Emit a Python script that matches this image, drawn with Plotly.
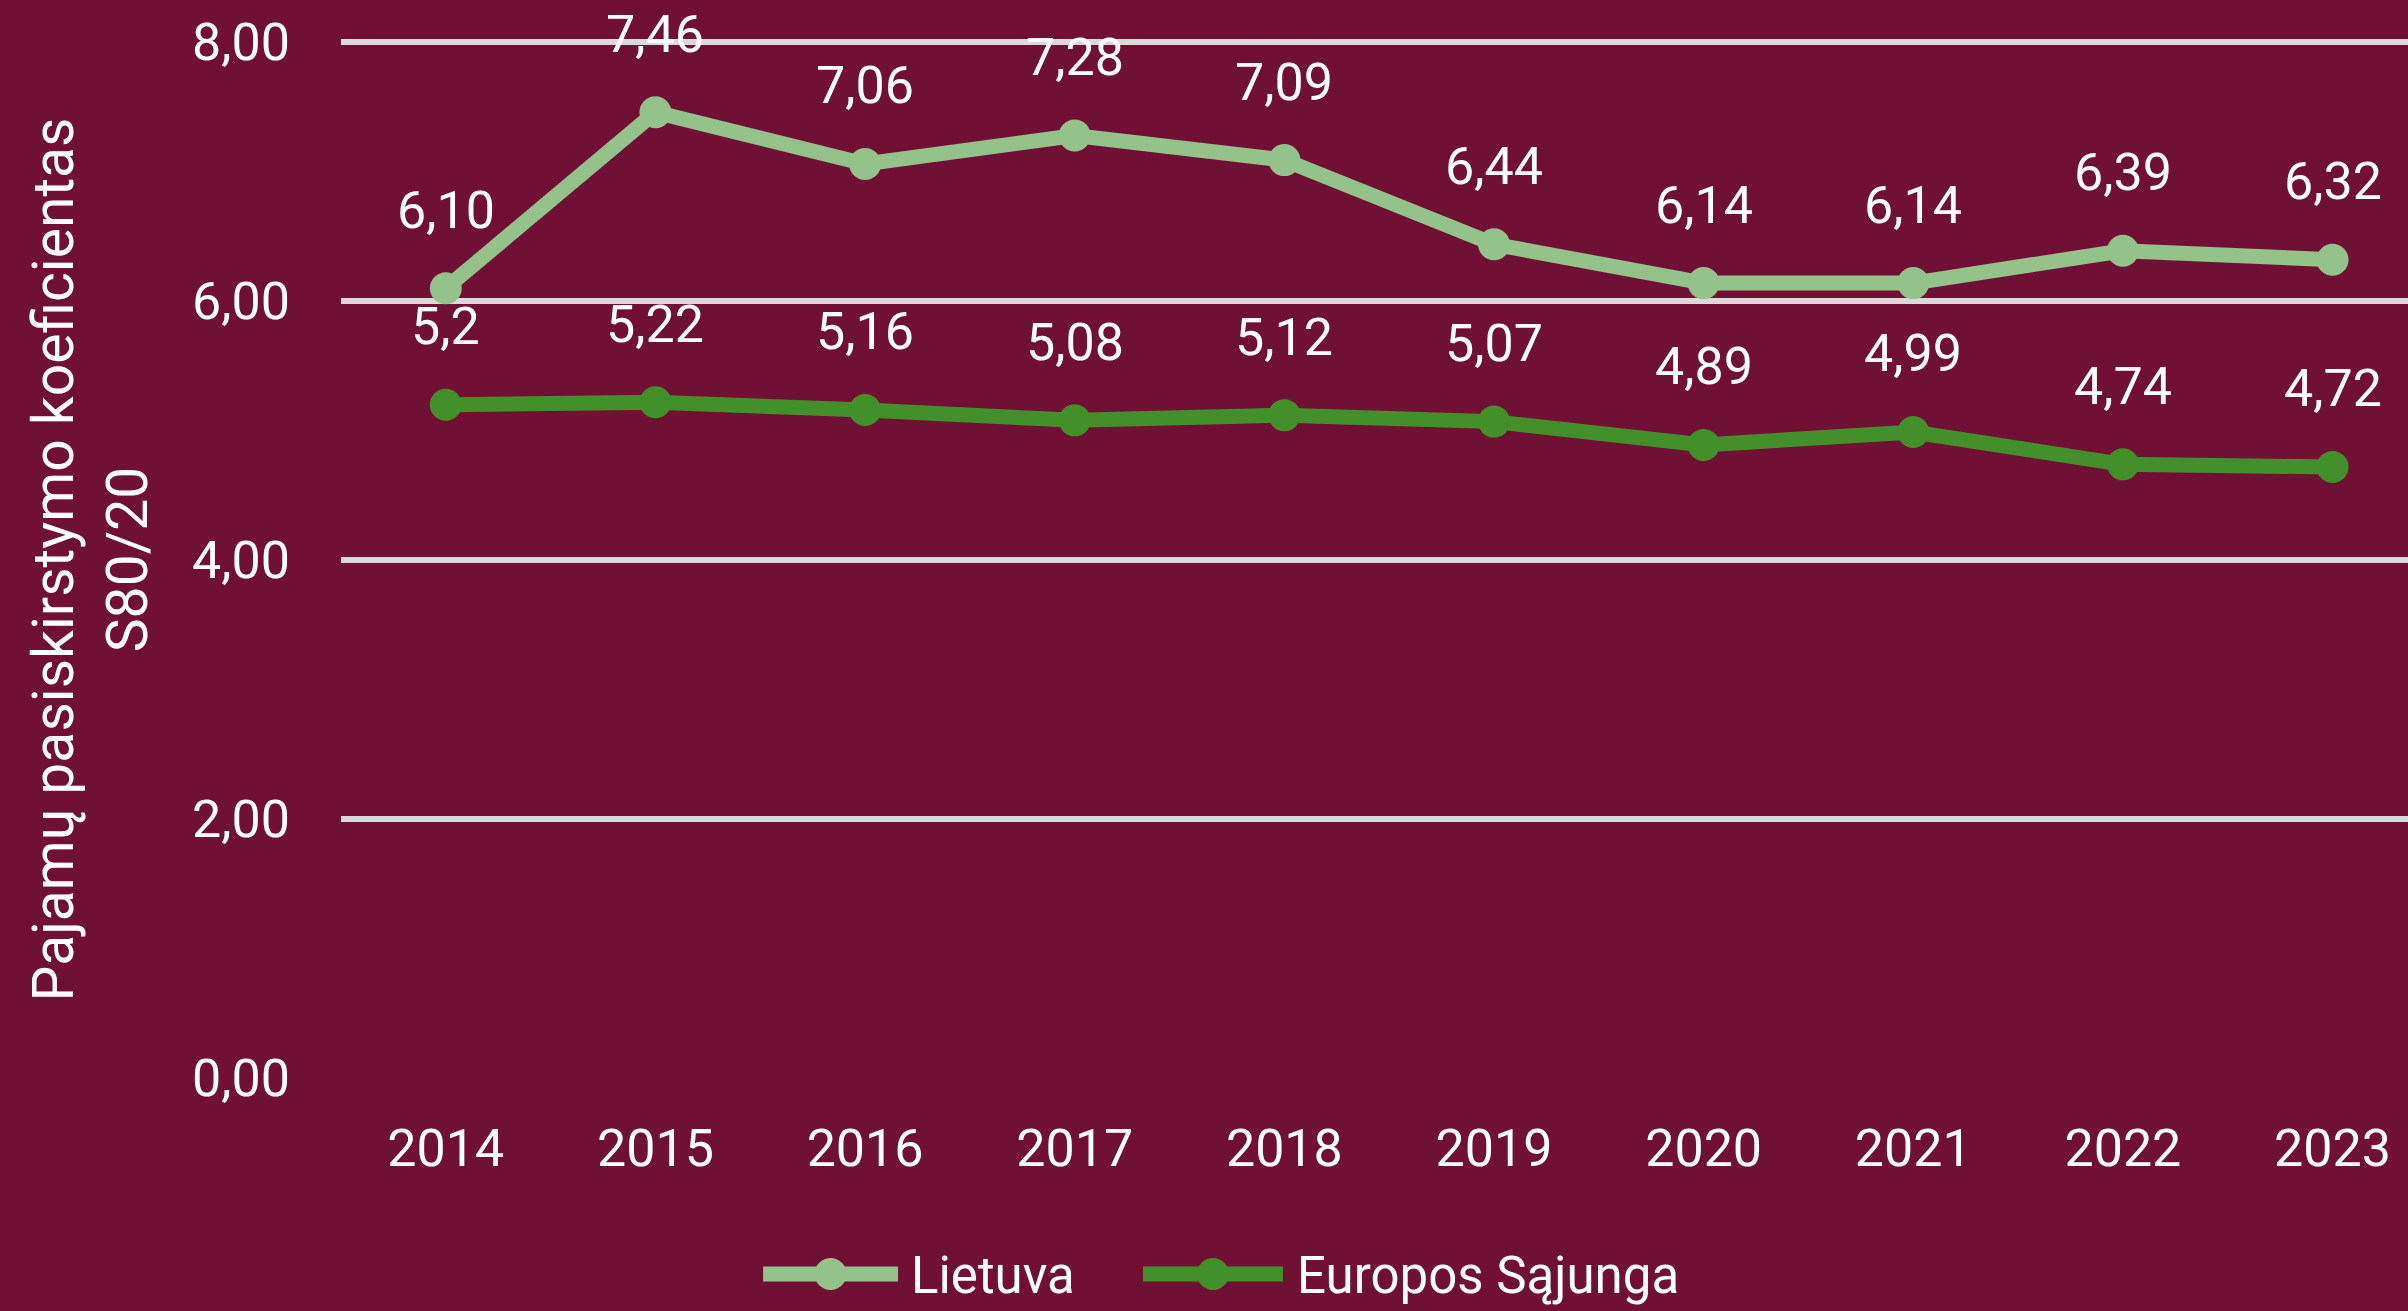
import plotly.graph_objects as go

years = ["2014", "2015", "2016", "2017", "2018", "2019", "2020", "2021", "2022", "2023"]
lietuva = [6.10, 7.46, 7.06, 7.28, 7.09, 6.44, 6.14, 6.14, 6.39, 6.32]
es = [5.2, 5.22, 5.16, 5.08, 5.12, 5.07, 4.89, 4.99, 4.74, 4.72]
lietuva_labels = [f"{v:.2f}".replace(".", ",") for v in lietuva]
es_labels = [str(v).replace(".", ",") for v in es]
y_ticks = [0, 2, 4, 6, 8]
series_names = ["Lietuva", "Europos Sąjunga"]

BG = "#701035"
LIGHT = "#93C28A"
DARK = "#43902A"
FONT = "Roboto"
LW = 15
MS = 32

fig = go.Figure()
fig.add_trace(go.Scatter(
    x=years, y=lietuva, name=series_names[0], mode="lines+markers",
    line=dict(color=LIGHT, width=LW), marker=dict(color=LIGHT, size=MS),
    cliponaxis=False, showlegend=False,
))
fig.add_trace(go.Scatter(
    x=years, y=es, name=series_names[1], mode="lines+markers",
    line=dict(color=DARK, width=LW), marker=dict(color=DARK, size=MS),
    cliponaxis=False, showlegend=False,
))

annotations = []
for ys, labels in [(lietuva, lietuva_labels), (es, es_labels)]:
    for i, (yv, t) in enumerate(zip(ys, labels)):
        annotations.append(dict(
            xref="x", yref="y", x=i, y=yv, text=t, showarrow=False,
            yshift=78,
            font=dict(family=FONT, size=52, color="#FFFFFF"),
        ))

# custom legend (wide line symbols like the original)
shapes = []
leg_y = -0.189
legend_items = [
    (series_names[0], LIGHT, 0.2042, 0.2695, 0.2748),
    (series_names[1], DARK, 0.3880, 0.4557, 0.4615),
]
for name, col, lx0, lx1, tx in legend_items:
    shapes.append(dict(type="line", xref="paper", yref="paper",
                       x0=lx0, x1=lx1, y0=leg_y, y1=leg_y,
                       line=dict(color=col, width=LW)))
    shapes.append(dict(type="circle", xref="paper", yref="paper",
                       xsizemode="pixel", ysizemode="pixel",
                       xanchor=(lx0 + lx1) / 2, yanchor=leg_y,
                       x0=-MS / 2, x1=MS / 2, y0=-MS / 2, y1=MS / 2,
                       fillcolor=col, line=dict(width=0)))
    annotations.append(dict(xref="paper", yref="paper", x=tx, y=leg_y,
                            xanchor="left", yanchor="middle", yshift=-2,
                            text=name, showarrow=False,
                            font=dict(family=FONT, size=51, color="#FFFFFF")))

fig.update_layout(
    width=2408, height=1311,
    paper_bgcolor=BG, plot_bgcolor=BG,
    margin=dict(l=341, r=0, t=41, b=233),
    separators=", ",
    font=dict(family=FONT, size=52, color="#FFFFFF"),
    annotations=annotations,
    shapes=shapes,
    showlegend=False,
    xaxis=dict(
        type="category", range=[-0.5, 9.36],
        showgrid=False, zeroline=False, showline=False,
        ticks="", ticklabelstandoff=35,
        tickfont=dict(family=FONT, size=52, color="#FFFFFF"),
    ),
    yaxis=dict(
        range=[0, 8.01], tickvals=y_ticks, tickformat=".2f",
        showgrid=True, gridcolor="#D9D9D9", gridwidth=6,
        zeroline=False, showline=False, ticks="",
        ticklabelstandoff=50,
        tickfont=dict(family=FONT, size=52, color="#FFFFFF"),
        title=dict(text="Pajamų pasiskirstymo koeficientas<br>S80/20",
                   font=dict(family=FONT, size=57, color="#FFFFFF"),
                   standoff=26),
    ),
)

fig.write_html(
    "out.html",
    config={"displayModeBar": False},
    post_script="document.body.style.margin='0';document.body.style.overflow='hidden';",
)
